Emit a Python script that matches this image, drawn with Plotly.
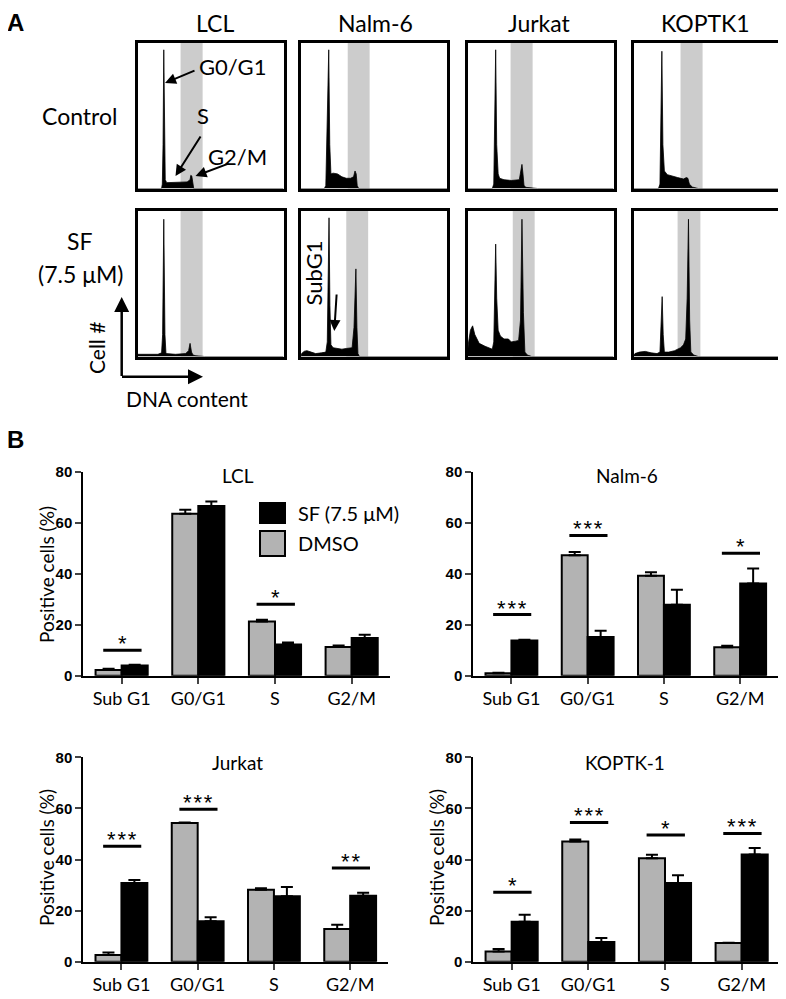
import plotly.graph_objects as go

# page body adds an 8 px margin, so the figure is drawn 8 px smaller and shifted
OFF = 8
W, H = 786 - OFF, 999 - OFF

# ── Panel A: DNA histograms (x = DNA content 0-100, y = relative cell # 0-100) ──
cell_lines_a = ["LCL", "Nalm-6", "Jurkat", "KOPTK1"]

lcl_ctrl_x = [0, 16.5, 17, 17.5, 18, 18.5, 19, 20, 25, 30, 34, 36, 36.5, 37.2, 37.8, 38.5, 100]
lcl_ctrl_y = [0, 0, 3, 30, 95, 40, 6, 4, 4, 4.5, 4.5, 6, 9, 8.5, 3, 0, 0]
nalm_ctrl_x = [0, 16, 17, 18, 19, 19.7, 20.5, 22, 25, 28, 31, 34, 36, 37, 37.8, 38.5, 39.5, 100]
nalm_ctrl_y = [0, 0, 2, 40, 95, 30, 10, 10.5, 10, 8, 7, 7, 8, 12, 10, 2, 0, 0]
jurkat_ctrl_x = [0, 17, 18, 18.7, 19.3, 20, 21, 22, 25, 30, 34, 35.5, 36.5, 37.3, 38, 38.7, 40, 47, 48, 100]
jurkat_ctrl_y = [0, 0, 3, 50, 95, 30, 10, 7, 6, 5.5, 5.5, 6, 12, 16.5, 10, 2, 0.8, 0.3, 0, 0]
koptk_ctrl_x = [0, 17, 18, 18.7, 19.3, 20, 21, 23, 26, 30, 34, 36, 37, 38, 40, 44, 100]
koptk_ctrl_y = [0, 0, 3, 45, 94, 30, 12, 9.5, 8.5, 7.5, 6.5, 7.5, 7, 3, 1, 0, 0]

lcl_sf_x = [0, 0.3, 14, 16.5, 17.2, 18, 18.8, 19.5, 26, 33, 35, 36, 37, 38, 40, 46, 100]
lcl_sf_y = [0, 1.5, 1.5, 2.5, 15, 94, 15, 2, 1.5, 2, 4, 9, 3, 1, 0.5, 0, 0]
nalm_sf_x = [0, 0.5, 2, 4, 7, 10, 14, 17, 18, 18.6, 19.2, 19.8, 20.5, 22, 25, 28, 31, 33, 35, 36.3, 37.6, 38.3, 39, 40, 100]
nalm_sf_y = [0, 2, 3.5, 4, 3, 2, 2.5, 3, 10, 60, 95, 35, 8, 6, 5.5, 5, 5.5, 5.5, 6, 20, 60, 20, 2, 0, 0]
jurkat_sf_x = [0, 0.5, 2, 3.5, 5, 8, 12, 15, 17, 18, 18.7, 19.3, 20, 21, 22.5, 25, 28, 30, 33, 35, 36.3, 37.3, 38.3, 39.3, 41, 44, 100]
jurkat_sf_y = [0, 8, 18, 21, 15, 9, 7, 5.5, 5, 10, 50, 77, 40, 18, 14, 12, 12, 10, 10.5, 11, 25, 94, 30, 3, 1, 0, 0]
koptk_sf_x = [0, 1, 4, 8, 12, 16, 18, 18.8, 19.5, 20.2, 21, 24, 28, 32, 34, 35.5, 36.5, 37.4, 38.2, 39, 41, 44, 100]
koptk_sf_y = [0, 2, 3, 3.5, 2.5, 2, 3, 20, 41, 15, 3, 3, 4, 6, 8, 12, 40, 94, 25, 3, 1, 0, 0]

band_lo_ctrl = [29.5, 32, 29.5, 32]
band_hi_ctrl = [44.6, 47, 44.6, 47]
band_lo_sf = [29.5, 31, 31, 30]
band_hi_sf = [44.6, 46, 46, 45.5]

# ── Panel B: bar data (% positive cells, mean + SEM) ──
phases = ["Sub G1", "G0/G1", "S", "G2/M"]

lcl_dmso = [2.2, 63.5, 21.3, 11.3]
lcl_dmso_err = [0.5, 1.6, 0.6, 0.5]
lcl_sf = [4.0, 66.5, 12.2, 14.8]
lcl_sf_err = [0.3, 1.8, 0.8, 1.3]

nalm_dmso = [1.0, 47.2, 39.2, 11.2]
nalm_dmso_err = [0.2, 1.3, 1.4, 0.5]
nalm_sf = [13.8, 15.2, 27.8, 36.2]
nalm_sf_err = [0.3, 2.4, 5.9, 5.8]

jurkat_dmso = [2.6, 54.3, 28.2, 12.8]
jurkat_dmso_err = [1.0, 0.2, 0.5, 1.7]
jurkat_sf = [30.8, 15.8, 25.6, 25.8]
jurkat_sf_err = [1.2, 1.6, 3.6, 1.2]

koptk_dmso = [4.0, 47.0, 40.5, 7.3]
koptk_dmso_err = [1.0, 0.8, 1.4, 0.1]
koptk_sf = [15.6, 7.7, 30.8, 42.0]
koptk_sf_err = [2.8, 1.6, 3.0, 2.5]

lcl_sig_cat, lcl_sig_y, lcl_sig_txt = [0, 2], [10, 28], ["*", "*"]
nalm_sig_cat, nalm_sig_y, nalm_sig_txt = [0, 1, 3], [24, 55, 48], ["***", "***", "*"]
jurkat_sig_cat, jurkat_sig_y, jurkat_sig_txt = [0, 1, 3], [45.2, 59.7, 36.7], ["***", "***", "**"]
koptk_sig_cat, koptk_sig_y, koptk_sig_txt = [0, 1, 2, 3], [27.2, 54.5, 49.6, 50.2], ["*", "***", "*", "***"]

bar_titles = ["LCL", "Nalm-6", "Jurkat", "KOPTK-1"]

# ── styling ──
FONT = "Lato"
NUM_FONT = "Liberation Sans"
GREY_BAR = "#b3b3b3"
GREY_BAND = "#cccccc"


def px(x, y):
    return (x - OFF) / W, 1 - (y - OFF) / H


def xdom(a, b):
    return [(a - OFF) / W, (b - OFF) / W]


def ydom(top, bottom):
    return [1 - (bottom - OFF) / H, 1 - (top - OFF) / H]


fig = go.Figure()
axes = {}


def suffix(i):
    return "" if i == 1 else str(i)


# ── histogram panels ──
hist_rows = [
    [(lcl_ctrl_x, lcl_ctrl_y), (nalm_ctrl_x, nalm_ctrl_y),
     (jurkat_ctrl_x, jurkat_ctrl_y), (koptk_ctrl_x, koptk_ctrl_y)],
    [(lcl_sf_x, lcl_sf_y), (nalm_sf_x, nalm_sf_y),
     (jurkat_sf_x, jurkat_sf_y), (koptk_sf_x, koptk_sf_y)],
]
bands = [(band_lo_ctrl, band_hi_ctrl), (band_lo_sf, band_hi_sf)]
col_px = [(137.5, 283.5), (301, 447), (467.5, 613.5), (633.5, 780.5)]
row_px = [(42.5, 188.5), (210.5, 356.5)]

i = 0
for r, row in enumerate(hist_rows):
    for c, (hx, hy) in enumerate(row):
        i += 1
        s = suffix(i)
        axes[f"xaxis{s}"] = dict(domain=xdom(*col_px[c]), anchor=f"y{s}", range=[0, 100],
                                 showline=True, mirror=True, linewidth=2.5, linecolor="black",
                                 showgrid=False, zeroline=False, showticklabels=False, ticks="")
        axes[f"yaxis{s}"] = dict(domain=ydom(*row_px[r]), anchor=f"x{s}", range=[0, 100],
                                 showline=True, mirror=True, linewidth=2.5, linecolor="black",
                                 showgrid=False, zeroline=False, showticklabels=False, ticks="")
        fig.add_trace(go.Scatter(
            x=hx, y=hy, mode="lines", fill="tozeroy",
            fillcolor="black", line=dict(color="black", width=0.8),
            xaxis=f"x{s}", yaxis=f"y{s}", showlegend=False, hoverinfo="skip",
        ))
        lo, hi = bands[r]
        fig.add_shape(type="rect", xref=f"x{s}", yref=f"y{s} domain",
                      x0=lo[c], x1=hi[c], y0=0, y1=1,
                      fillcolor=GREY_BAND, line_width=0, layer="below")

# ── bar chart panels ──
bar_sets = [
    (lcl_dmso, lcl_dmso_err, lcl_sf, lcl_sf_err, lcl_sig_cat, lcl_sig_y, lcl_sig_txt),
    (nalm_dmso, nalm_dmso_err, nalm_sf, nalm_sf_err, nalm_sig_cat, nalm_sig_y, nalm_sig_txt),
    (jurkat_dmso, jurkat_dmso_err, jurkat_sf, jurkat_sf_err, jurkat_sig_cat, jurkat_sig_y, jurkat_sig_txt),
    (koptk_dmso, koptk_dmso_err, koptk_sf, koptk_sf_err, koptk_sig_cat, koptk_sig_y, koptk_sig_txt),
]
bar_x_px = [(83.3, 390), (473.3, 778.3), (83.3, 388.3), (473.3, 780)]
bar_y_px = [(471.7, 675.7), (471.7, 675.7), (757.3, 961.7), (757.3, 961.7)]
cat_idx = list(range(len(phases)))

annotations = []

for k, (dm, dme, sf, sfe, sc, sy, st) in enumerate(bar_sets):
    i += 1
    s = suffix(i)
    axes[f"xaxis{s}"] = dict(
        domain=xdom(*bar_x_px[k]), anchor=f"y{s}", range=[-0.5, 3.5],
        tickvals=cat_idx, ticktext=phases, ticks="outside", ticklen=6, tickwidth=2,
        showline=True, linewidth=2, linecolor="black", showgrid=False, zeroline=False,
        tickfont=dict(family=FONT, size=18, color="black"), automargin=False,
    )
    axes[f"yaxis{s}"] = dict(
        domain=ydom(*bar_y_px[k]), anchor=f"x{s}", range=[0, 80],
        tickvals=[0, 20, 40, 60, 80], ticks="outside", ticklen=6, tickwidth=2,
        showline=True, linewidth=2, linecolor="black", showgrid=False, zeroline=False,
        tickfont=dict(family=NUM_FONT, size=15, color="black", weight="bold"), automargin=False,
    )
    for vals, errs, col in [(dm, dme, GREY_BAR), (sf, sfe, "black")]:
        fig.add_trace(go.Bar(
            x=cat_idx, y=vals, xaxis=f"x{s}", yaxis=f"y{s}",
            marker=dict(color=col, line=dict(color="black", width=2)),
            error_y=dict(type="data", symmetric=False, array=errs, arrayminus=[0] * len(errs),
                         color="black", thickness=2, width=6),
            showlegend=False, hoverinfo="skip",
        ))
    # significance bars
    lx, ly = [], []
    for cc, yy, tt in zip(sc, sy, st):
        lx += [cc - 0.24, cc + 0.26, None]
        ly += [yy, yy, None]
        annotations.append(dict(
            x=cc + 0.01, y=yy, xref=f"x{s}", yref=f"y{s}", yanchor="bottom",
            text="\u200a".join(tt), showarrow=False, yshift=-8,
            font=dict(family=NUM_FONT, size=22, color="black"),
        ))
    fig.add_trace(go.Scatter(x=lx, y=ly, mode="lines", line=dict(color="black", width=3),
                             xaxis=f"x{s}", yaxis=f"y{s}", showlegend=False, hoverinfo="skip"))

fig.update_layout(**axes)


def text(x, y, t, size, angle=0, bold=False, family=FONT, xanchor="center", yanchor="middle"):
    xx, yy = px(x, y)
    annotations.append(dict(
        x=xx, y=yy, xref="paper", yref="paper", text=f"<b>{t}</b>" if bold else t,
        showarrow=False, textangle=angle, xanchor=xanchor, yanchor=yanchor, borderpad=0,
        font=dict(family=family, size=size, color="black"),
    ))


def arrow(x0, y0, x1, y1, width=2, size=1.1):
    # tail (x0, y0) → head (x1, y1), in pixels
    xx, yy = px(x1, y1)
    annotations.append(dict(
        x=xx, y=yy, xref="paper", yref="paper", text="", showarrow=True,
        ax=x0 - x1, ay=y0 - y1, axref="pixel", ayref="pixel",
        arrowhead=2, arrowsize=size, arrowwidth=width, arrowcolor="black",
    ))


# panel letters (anchored at their top so they stay inside the figure)
text(15, 8, "A", 24, bold=True, family=NUM_FONT, yanchor="top")
text(15, 425, "B", 24, bold=True, family=NUM_FONT, yanchor="top")

# panel A column/row labels
for name, cx in zip(cell_lines_a, [215, 375, 539, 705]):
    text(cx, 8, name, 23, yanchor="top")
text(79, 116, "Control", 23)
text(79, 241, "SF", 23)
text(80, 274, "(7.5 μM)", 23)

# LCL control phase callouts
text(232, 66, "G0/G1", 22)
arrow(196, 70, 165, 83)
text(203, 116, "S", 22)
arrow(201.5, 135, 175.5, 176)
text(238, 156, "G2/M", 22)
arrow(230, 163, 195.5, 176)

# Nalm-6 SF subG1 callout
text(312.5, 273, "SubG1", 22, angle=-90)
arrow(336.7, 293, 334.3, 331)

# Cell # / DNA content axes
arrow(121.7, 377.5, 121.7, 297, width=2.5, size=1.2)
arrow(120.5, 376.7, 203, 376.7, width=2.5, size=1.2)
text(96, 348, "Cell #", 21, angle=-90)
text(187, 399, "DNA content", 21)

# panel B titles
for name, (cx, cy) in zip(bar_titles, [(238, 475), (627, 475), (237, 762), (625, 762)]):
    text(cx, cy, name, 19)
for cx, cy in [(46, 575), (46, 858), (436, 858)]:
    text(cx, cy, "Positive cells (%)", 19, angle=-90)

# legend (LCL)
text(297, 513, "SF (7.5 μM)", 20, xanchor="left")
text(297, 543, "DMSO", 20, xanchor="left")

shapes_legend = [
    dict(x0=260, x1=285, y0=503, y1=523, fill="black"),
    dict(x0=260, x1=285, y0=531, y1=556, fill=GREY_BAR),
]
for sh in shapes_legend:
    a0, b0 = px(sh["x0"], sh["y1"])
    a1, b1 = px(sh["x1"], sh["y0"])
    fig.add_shape(type="rect", xref="paper", yref="paper", x0=a0, x1=a1, y0=b0, y1=b1,
                  fillcolor=sh["fill"], line=dict(color="black", width=2))

fig.update_layout(
    width=W, height=H,
    margin=dict(l=0, r=0, t=0, b=0, pad=0, autoexpand=False),
    paper_bgcolor="white", plot_bgcolor="rgba(0,0,0,0)",
    barmode="group", bargap=0.32, bargroupgap=0,
    showlegend=False,
    annotations=annotations,
    font=dict(family=FONT, color="black"),
)

fig.write_html("out.html")
